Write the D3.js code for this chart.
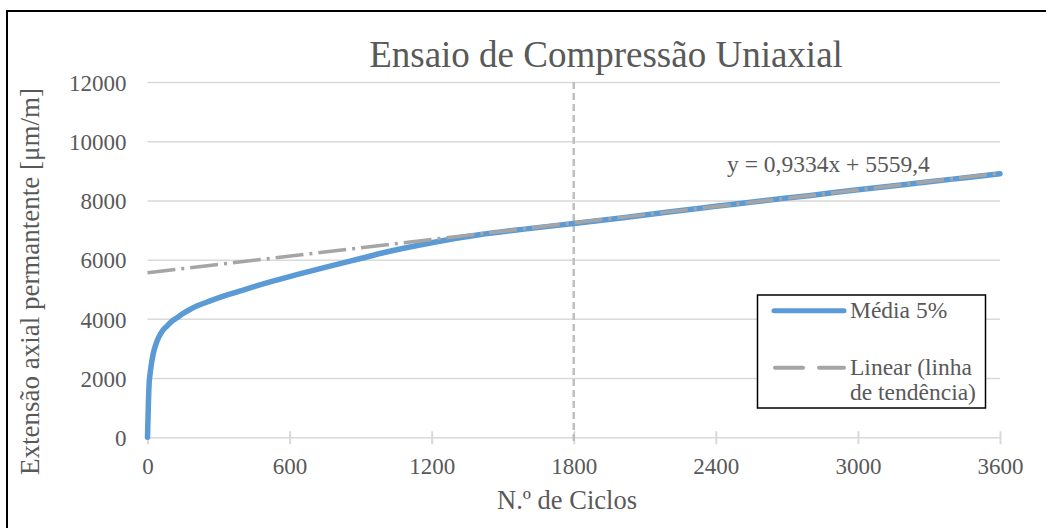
<!DOCTYPE html>
<html>
<head>
<meta charset="utf-8">
<script src="https://cdn.jsdelivr.net/npm/d3@7"></script>
<style>
  html, body { margin: 0; padding: 0; background: #fff; }
  svg { display: block; }
</style>
</head>
<body>
<svg id="chart" width="1046" height="528"></svg>
<script>
// Number of cycles and mean permanent axial strain (µm/m)
const cycles = [0, 4, 7, 11, 18, 25, 35, 46, 60, 81, 100, 123, 150, 179, 210, 249, 300, 389, 450, 529, 634, 750, 900, 1000, 1200, 1400, 1600, 1800, 2000, 2200, 2400, 2600, 2800, 3000, 3200, 3400, 3600];
const strain = [0, 1200, 1830, 2150, 2550, 2850, 3130, 3355, 3560, 3750, 3900, 4030, 4180, 4315, 4440, 4560, 4710, 4935, 5090, 5275, 5500, 5740, 6040, 6240, 6570, 6840, 7040, 7220, 7410, 7610, 7800, 7990, 8170, 8360, 8540, 8720, 8900];

// Linear trend line coefficients
const trendSlope = 0.9334;
const trendIntercept = 5559.4;
const trendLabel = "y = 0,9334x + 5559,4";

// Axis ticks and reference line
const xTicks = [0, 600, 1200, 1800, 2400, 3000, 3600];
const yTicks = [0, 2000, 4000, 6000, 8000, 10000, 12000];
const markerCycles = [1800];

const title = "Ensaio de Compressão Uniaxial";
const xTitle = "N.º de Ciclos";
const yTitle = "Extensão axial permantente [μm/m]";
const legendLabels = ["Média 5%", ["Linear (linha", "de tendência)"]];

const FONT = '"Liberation Serif", "Times New Roman", serif';
const svg = d3.select("#chart");

const plotLeft = 147.5, plotRight = 1000, plotTop = 82, plotBottom = 437.3;
const x = d3.scaleLinear().domain([0, 3600]).range([plotLeft, plotRight]);
const y = d3.scaleLinear().domain([0, 12000]).range([plotBottom, plotTop]);

// outer frame
svg.append("rect")
  .attr("x", 7).attr("y", 11)
  .attr("width", 1100).attr("height", 600)
  .attr("fill", "none").attr("stroke", "#000").attr("stroke-width", 2);

// y axis with horizontal gridlines
const yAxis = svg.append("g")
  .attr("transform", `translate(${plotLeft},0)`)
  .call(d3.axisLeft(y).tickValues(yTicks).tickSize(-(plotRight - plotLeft)).tickPadding(21).tickFormat(d3.format("d")))
  .attr("font-family", FONT);
yAxis.select(".domain").remove();
yAxis.selectAll(".tick line").attr("stroke", "#d9d9d9").attr("stroke-width", 1.5);
yAxis.selectAll(".tick text")
  .attr("font-size", 23).attr("fill", "#595959")
  .attr("dy", "0.36em");

// x axis
const xAxis = svg.append("g")
  .attr("transform", `translate(0,${plotBottom})`)
  .call(d3.axisBottom(x).tickValues(xTicks).tickSize(7).tickFormat(d3.format("d")))
  .attr("font-family", FONT);
xAxis.select(".domain").remove();
xAxis.selectAll(".tick line").attr("y1", -6).attr("stroke", "#d9d9d9").attr("stroke-width", 2);
xAxis.selectAll(".tick text")
  .attr("font-size", 23).attr("fill", "#595959")
  .attr("y", 37).attr("dy", 0);

// vertical reference line
svg.append("g").selectAll("line").data(markerCycles).join("line")
  .attr("x1", d => x(d)).attr("x2", d => x(d))
  .attr("y1", y(12000)).attr("y2", plotBottom + 7)
  .attr("stroke", "#bfbfbf").attr("stroke-width", 2.5).attr("stroke-dasharray", "7,4");

// measured curve
const pts = cycles.map((c, i) => [c, strain[i]]);
const line = d3.line().x(d => x(d[0])).y(d => y(d[1])).curve(d3.curveMonotoneX);
svg.append("path").datum(pts)
  .attr("d", line)
  .attr("fill", "none").attr("stroke", "#5b9bd5").attr("stroke-width", 5.5)
  .attr("stroke-linejoin", "round").attr("stroke-linecap", "round");

// trend line
const trend = [0, 3600].map(c => [c, trendSlope * c + trendIntercept]);
svg.append("path").datum(trend)
  .attr("d", d3.line().x(d => x(d[0])).y(d => y(d[1])))
  .attr("fill", "none").attr("stroke", "#a5a5a5").attr("stroke-width", 3.5)
  .attr("stroke-dasharray", "28,6,3,6");

// text helper
function label(sel, opts, str) {
  return sel.append("text")
    .attr("font-family", FONT).attr("fill", "#595959")
    .attr("font-size", opts.size)
    .attr("text-anchor", opts.anchor || "start")
    .attr("transform", opts.transform || null)
    .attr("x", opts.x || 0).attr("y", opts.y || 0)
    .text(str);
}

// trend equation
label(svg, { x: 727, y: 172, size: 23.5 }, trendLabel);

// title
label(svg, { x: 606, y: 67, size: 37, anchor: "middle" }, title);

// axis titles
label(svg, { x: 567, y: 509, size: 26.5, anchor: "middle" }, xTitle);
label(svg, { transform: `translate(39,281.5) rotate(-90)`, size: 27, anchor: "middle" }, yTitle);

// legend
const lg = svg.append("g");
lg.append("rect").attr("x", 757.5).attr("y", 295).attr("width", 228).attr("height", 113)
  .attr("fill", "#fff").attr("stroke", "#000").attr("stroke-width", 1.5);
lg.append("line").attr("x1", 774).attr("x2", 844).attr("y1", 310.7).attr("y2", 310.7)
  .attr("stroke", "#5b9bd5").attr("stroke-width", 5).attr("stroke-linecap", "round");
lg.append("line").attr("x1", 775).attr("x2", 844).attr("y1", 367.7).attr("y2", 367.7)
  .attr("stroke", "#a5a5a5").attr("stroke-width", 4).attr("stroke-linecap", "round")
  .attr("stroke-dasharray", "28,16");
label(lg, { x: 850, y: 318, size: 23.5 }, legendLabels[0]);
label(lg, { x: 850, y: 375, size: 23.5 }, legendLabels[1][0]);
label(lg, { x: 850, y: 400, size: 23.5 }, legendLabels[1][1]);
</script>
</body>
</html>
